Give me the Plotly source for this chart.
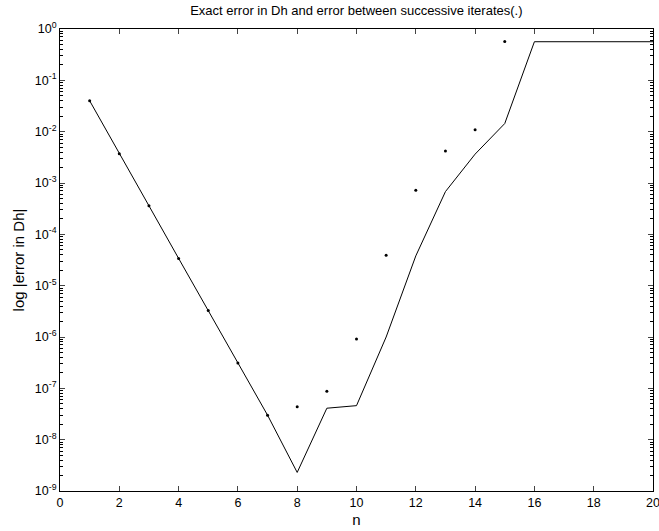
import plotly.graph_objects as go

# Data
n_line = list(range(1, 21))
err_exact = [0.040, 0.0037, 3.6e-4, 3.4e-5, 3.3e-6, 3.1e-7, 3.0e-8, 2.3e-9, 4.1e-8, 4.6e-8,
             1.0e-6, 3.8e-5, 6.8e-4, 3.65e-3, 1.44e-2, 0.565, 0.565, 0.565, 0.565, 0.565]
n_dots = list(range(1, 16))
err_successive = [0.040, 0.0037, 3.6e-4, 3.4e-5, 3.3e-6, 3.1e-7, 3.0e-8, 4.4e-8, 8.8e-8, 9.1e-7,
                  3.9e-5, 7.2e-4, 4.2e-3, 1.09e-2, 0.57]

y_exps = list(range(-9, 1))
y_tickvals = [10.0 ** e for e in y_exps]
y_ticktext = ["10<sup>%d</sup>" % e for e in y_exps]
y_minor = [k * 10.0 ** e for e in range(-9, 0) for k in range(2, 10)]
x_ticks = list(range(0, 21, 2))

font = dict(family="Liberation Sans, Arial, sans-serif", size=12.5, color="black")

fig = go.Figure()
fig.add_trace(go.Scatter(x=n_line, y=err_exact, mode="lines",
                         line=dict(color="black", width=1), showlegend=False))
fig.add_trace(go.Scatter(x=n_dots, y=err_successive, mode="markers",
                         marker=dict(color="black", size=3), showlegend=False))

fig.update_layout(
    width=659, height=531,
    margin=dict(l=60, r=6, t=29, b=40, autoexpand=False),
    paper_bgcolor="white", plot_bgcolor="white",
    font=font,
    title=dict(text="Exact error in Dh and error between successive iterates(.)",
               x=0.5407, xanchor="center", y=0.981, yanchor="middle",
               font=dict(size=13)),
)
fig.update_xaxes(
    range=[0, 20], tickvals=x_ticks, ticks="inside", ticklen=5,
    ticklabeloverflow="allow", automargin=False,
    showline=True, linecolor="black", linewidth=1, mirror="ticks",
    showgrid=False, zeroline=False,
    title=dict(text="n", standoff=5),
)
fig.update_yaxes(
    type="log", range=[-9, 0], tickvals=y_tickvals, ticktext=y_ticktext,
    ticks="inside", ticklen=5, ticklabeloverflow="allow", automargin=False,
    minor=dict(tickvals=y_minor, ticks="inside", ticklen=3, tickcolor="black", showgrid=False),
    showline=True, linecolor="black", linewidth=1, mirror="ticks",
    showgrid=False, zeroline=False,
    title=dict(text="log |error in Dh|", standoff=6),
)

fig.write_html("out.html")
